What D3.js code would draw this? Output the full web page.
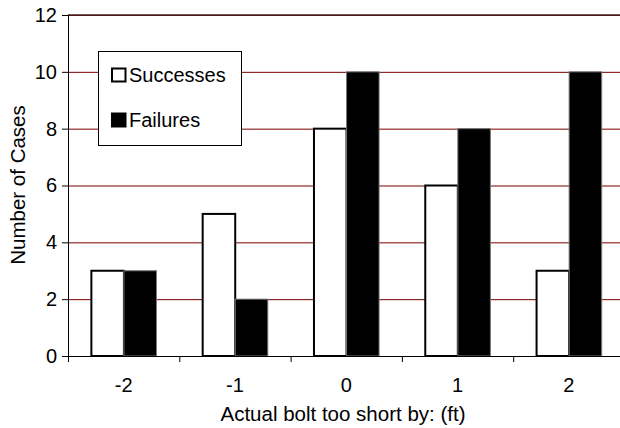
<!DOCTYPE html>
<html><head><meta charset="utf-8">
<script src="https://cdn.jsdelivr.net/npm/d3@7"></script>
<style>html,body{margin:0;padding:0;background:#fff;}svg{display:block;font-family:"Liberation Sans",Arial,sans-serif;}</style>
</head><body>
<svg id="c" width="620" height="428"></svg>
<script>
const categories = ["-2", "-1", "0", "1", "2"];
const seriesNames = ["Successes", "Failures"];
const successes = [3, 5, 8, 6, 3];
const failures = [3, 2, 10, 8, 10];
const yTicks = [0, 2, 4, 6, 8, 10, 12];

const svg = d3.select("#c");
const L = 68, T = 15, B = 356, bw = 111.3, R = L + bw * categories.length;
const x = d3.scaleBand().domain(categories).range([L, R]).padding(0);
const xs = d3.scaleBand().domain(seriesNames).range([0.21 * bw, 0.795 * bw]).padding(0);
const y = d3.scaleLinear().domain([0, 12]).range([B, T]);
const fs = 20;

// gridlines
svg.append("g").selectAll("line").data(yTicks.filter(d => d > 0)).join("line")
  .attr("x1", L).attr("x2", 620).attr("y1", d => y(d) + 0.5).attr("y2", d => y(d) + 0.5)
  .attr("stroke", "#7a0000").attr("stroke-width", 1);
svg.append("line").attr("x1", L).attr("x2", 620).attr("y1", y(12)).attr("y2", y(12))
  .attr("stroke", "#402020").attr("stroke-width", 1.5);

// bars
const data = categories.map((c, i) => ({c, vals: [
  {s: "Successes", v: successes[i]}, {s: "Failures", v: failures[i]}]}));
const g = svg.append("g").selectAll("g").data(data).join("g")
  .attr("transform", d => `translate(${x(d.c)},0)`);
g.selectAll("rect").data(d => d.vals).join("rect")
  .attr("x", d => xs(d.s)).attr("width", xs.bandwidth())
  .attr("y", d => y(d.v)).attr("height", d => B - y(d.v))
  .attr("fill", d => d.s === "Successes" ? "#fff" : "#000")
  .attr("stroke", d => d.s === "Successes" ? "#000" : "#777")
  .attr("stroke-width", d => d.s === "Successes" ? 2 : 1);

// y axis
const ya = svg.append("g").attr("transform", `translate(${L},0)`)
  .call(d3.axisLeft(y).tickValues(yTicks).tickSize(6).tickPadding(5).tickFormat(d3.format("d")));
ya.select(".domain").attr("stroke", "#000");
ya.selectAll("text").attr("font-size", fs).attr("fill", "#000").attr("font-family", "Liberation Sans, Arial, sans-serif");

// x axis
const xa = svg.append("g").attr("transform", `translate(0,${B})`)
  .call(d3.axisBottom(x).tickSize(0).tickPadding(22));
xa.select(".domain").attr("stroke", "#000");
xa.selectAll("text").attr("font-size", fs).attr("fill", "#000").attr("font-family", "Liberation Sans, Arial, sans-serif");
svg.append("g").selectAll("line").data(categories).join("line")
  .attr("x1", d => x(d) + 0.5).attr("x2", d => x(d) + 0.5).attr("y1", B).attr("y2", B + 6)
  .attr("stroke", "#000");

// titles
svg.append("text").attr("x", 343).attr("y", 421).attr("text-anchor", "middle")
  .attr("font-size", 20.5).text("Actual bolt too short by: (ft)");
svg.append("text").attr("transform", "translate(25,185) rotate(-90)").attr("text-anchor", "middle")
  .attr("font-size", 20.5).text("Number of Cases");

// legend
const lg = svg.append("g");
lg.append("rect").attr("x", 98.5).attr("y", 51.5).attr("width", 143).attr("height", 94)
  .attr("fill", "#fff").attr("stroke", "#000").attr("stroke-width", 1);
const items = [{s: "Successes", fill: "#fff"}, {s: "Failures", fill: "#000"}];
items.forEach((it, i) => {
  const yy = 68 + i * 45;
  lg.append("rect").attr("x", 112).attr("y", yy + 0.5).attr("width", 13.5).attr("height", 13)
    .attr("fill", it.fill).attr("stroke", "#000").attr("stroke-width", 2);
  lg.append("text").attr("x", 129).attr("y", yy + 14).attr("font-size", fs).text(it.s);
});
</script>
</body></html>
